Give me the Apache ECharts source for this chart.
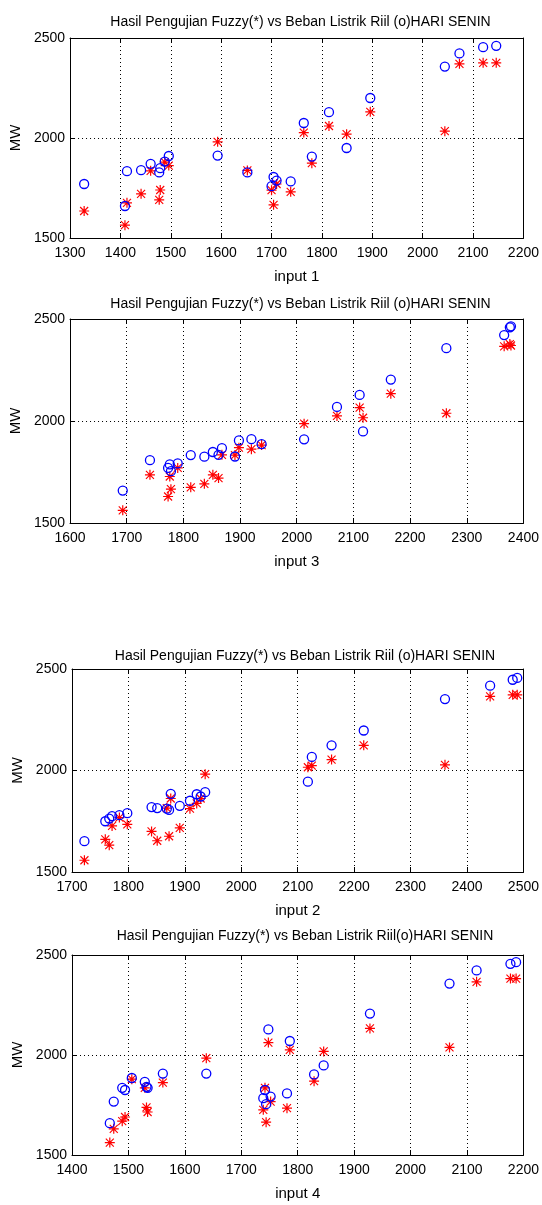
<!DOCTYPE html>
<html>
<head>
<meta charset="utf-8">
<script src="https://cdn.jsdelivr.net/npm/echarts@6/dist/echarts.min.js"></script>
<style>
  html, body { margin: 0; padding: 0; background: #fff; }
  #chart { width: 542px; height: 1205px; }
</style>
</head>
<body>
<div id="chart"></div>
<script>
// panel 1 : input 1
const input1 = [1328, 1409, 1413, 1441, 1460, 1477, 1479, 1488, 1496, 1593, 1652, 1700, 1704, 1710, 1738, 1764, 1780, 1814, 1849, 1896, 2044, 2073, 2120, 2146]
const real1  = [1770, 1660, 1834, 1839, 1871, 1828, 1849, 1882, 1910, 1912, 1828, 1759, 1805, 1787, 1783, 2075, 1907, 2129, 1950, 2200, 2357, 2423, 2454, 2461]
const fuzzy1 = [1635, 1564, 1676, 1721, 1836, 1691, 1740, 1879, 1862, 1981, 1838, 1739, 1666, 1770, 1731, 2027, 1874, 2060, 2019, 2131, 2034, 2371, 2376, 2376]

// panel 2 : input 3
const input3 = [1693, 1741, 1773, 1776, 1778, 1790, 1813, 1837, 1852, 1862, 1868, 1891, 1898, 1920, 1938, 2013, 2071, 2111, 2117, 2166, 2264, 2366, 2376, 2378]
const real3  = [1659, 1808, 1770, 1787, 1754, 1792, 1833, 1825, 1848, 1834, 1867, 1826, 1905, 1911, 1887, 1910, 2069, 2128, 1949, 2203, 2357, 2421, 2459, 2464]
const fuzzy3 = [1562, 1736, 1630, 1728, 1666, 1770, 1675, 1692, 1736, 1720, 1834, 1833, 1869, 1862, 1882, 1987, 2025, 2066, 2016, 2134, 2038, 2366, 2377, 2370]

// panel 3 : input 2
const input2 = [1722, 1759, 1766, 1771, 1784, 1798, 1841, 1851, 1868, 1872, 1875, 1891, 1909, 1921, 1928, 1936, 2118, 2125, 2160, 2217, 2361, 2441, 2481, 2489]
const real2  = [1652, 1750, 1763, 1775, 1780, 1790, 1820, 1815, 1812, 1806, 1885, 1826, 1851, 1883, 1872, 1893, 1945, 2067, 2124, 2197, 2352, 2418, 2447, 2456]
const fuzzy2 = [1558, 1661, 1632, 1727, 1768, 1735, 1700, 1654, 1815, 1676, 1862, 1717, 1812, 1838, 1862, 1982, 2016, 2024, 2054, 2124, 2028, 2365, 2373, 2373]

// panel 4 : input 4
const input4 = [1467, 1474, 1489, 1494, 1506, 1529, 1532, 1534, 1561, 1638, 1739, 1742, 1744, 1748, 1752, 1781, 1786, 1829, 1846, 1928, 2069, 2117, 2177, 2187]
const real4  = [1659, 1767, 1836, 1825, 1885, 1866, 1841, 1836, 1907, 1907, 1784, 1825, 1754, 2128, 1792, 1808, 2070, 1903, 1948, 2207, 2357, 2423, 2456, 2464]
const fuzzy4 = [1562, 1631, 1669, 1690, 1879, 1836, 1738, 1715, 1862, 1984, 1726, 1836, 1664, 2062, 1767, 1734, 2026, 1869, 2018, 2133, 2038, 2366, 2382, 2382]

const yTicks = [1500, 2000, 2500]

const panels = [
  { title: 'Hasil Pengujian Fuzzy(*) vs Beban Listrik Riil (o)HARI SENIN', xName: 'input 1',
    xMin: 1300, xMax: 2200, x: input1, real: real1, fuzzy: fuzzy1,
    left: 66, top: 38, width: 459, height: 200, titleY: 18 },
  { title: 'Hasil Pengujian Fuzzy(*) vs Beban Listrik Riil (o)HARI SENIN', xName: 'input 3',
    xMin: 1600, xMax: 2400, x: input3, real: real3, fuzzy: fuzzy3,
    left: 66, top: 319, width: 459, height: 204, titleY: 300 },
  { title: 'Hasil Pengujian Fuzzy(*) vs Beban Listrik Riil (o)HARI SENIN', xName: 'input 2',
    xMin: 1700, xMax: 2500, x: input2, real: real2, fuzzy: fuzzy2,
    left: 72, top: 669, width: 456, height: 203, titleY: 652 },
  { title: 'Hasil Pengujian Fuzzy(*) vs Beban Listrik Riil(o)HARI SENIN', xName: 'input 4',
    xMin: 1400, xMax: 2200, x: input4, real: real4, fuzzy: fuzzy4,
    left: 72, top: 955, width: 456, height: 200, titleY: 932 },
]

const FONT = '"Liberation Sans", Arial, sans-serif'
// matlab style '*' marker
const STAR = 'path://M8.8 0 L11.2 0 L11.2 20 L8.8 20 Z M0 8.8 L20 8.8 L20 11.2 L0 11.2 Z M2.8 1.2 L18.8 17.2 L17.2 18.8 L1.2 2.8 Z M17.2 1.2 L18.8 2.8 L2.8 18.8 L1.2 17.2 Z'

const dotted = { color: '#000', width: 1, type: [1, 3] }
const axisLine = { show: true, onZero: false, lineStyle: { color: '#000', width: 1 } }
const tick = { show: true, inside: true, length: 5, lineStyle: { color: '#000' } }
const label = { color: '#000', fontFamily: FONT, fontSize: 14 }
const plain = v => String(v)

const option = { animation: false, backgroundColor: '#fff', title: [], grid: [], xAxis: [], yAxis: [], series: [] }

panels.forEach((p, i) => {
  option.title.push({
    text: p.title, left: p.left + p.width / 2, top: p.titleY - 8, textAlign: 'center',
    textStyle: { color: '#000', fontFamily: FONT, fontSize: 14, fontWeight: 'normal' },
  })
  option.grid.push({ left: p.left, top: p.top, width: p.width, height: p.height })
  // bottom / left axes with labels
  option.xAxis.push({
    type: 'value', gridIndex: i, position: 'bottom', min: p.xMin, max: p.xMax, interval: 100,
    name: p.xName, nameLocation: 'middle', nameGap: 31, nameTextStyle: { ...label, fontSize: 15 },
    axisLine, axisTick: tick, axisLabel: { ...label, margin: 8, formatter: plain },
    splitLine: { show: true, lineStyle: dotted },
  })
  option.yAxis.push({
    type: 'value', gridIndex: i, position: 'left', min: yTicks[0], max: yTicks[2], interval: 500,
    name: 'MW', nameLocation: 'middle', nameGap: 42, nameTextStyle: { ...label, fontSize: 15 },
    axisLine, axisTick: tick, axisLabel: { ...label, margin: 5, formatter: plain },
    splitLine: { show: true, lineStyle: dotted },
  })
  // top / right axes: box + ticks only
  option.xAxis.push({
    type: 'value', gridIndex: i, position: 'top', min: p.xMin, max: p.xMax, interval: 100,
    axisLine, axisTick: tick, axisLabel: { show: false }, splitLine: { show: false },
  })
  option.yAxis.push({
    type: 'value', gridIndex: i, position: 'right', min: yTicks[0], max: yTicks[2], interval: 500,
    axisLine, axisTick: tick, axisLabel: { show: false }, splitLine: { show: false },
  })
  option.series.push({
    type: 'scatter', xAxisIndex: 2 * i, yAxisIndex: 2 * i,
    data: p.x.map((v, k) => [v, p.fuzzy[k]]),
    symbol: STAR, symbolSize: 10,
    itemStyle: { color: '#ff0000', opacity: 1 },
  })
  option.series.push({
    type: 'scatter', xAxisIndex: 2 * i, yAxisIndex: 2 * i,
    data: p.x.map((v, k) => [v, p.real[k]]),
    symbol: 'circle', symbolSize: 9,
    itemStyle: { color: 'rgba(0,0,0,0)', borderColor: '#0000ff', borderWidth: 1.3, opacity: 1 },
  })
})

const chart = echarts.init(document.getElementById('chart'))
chart.setOption(option)
</script>
</body>
</html>
